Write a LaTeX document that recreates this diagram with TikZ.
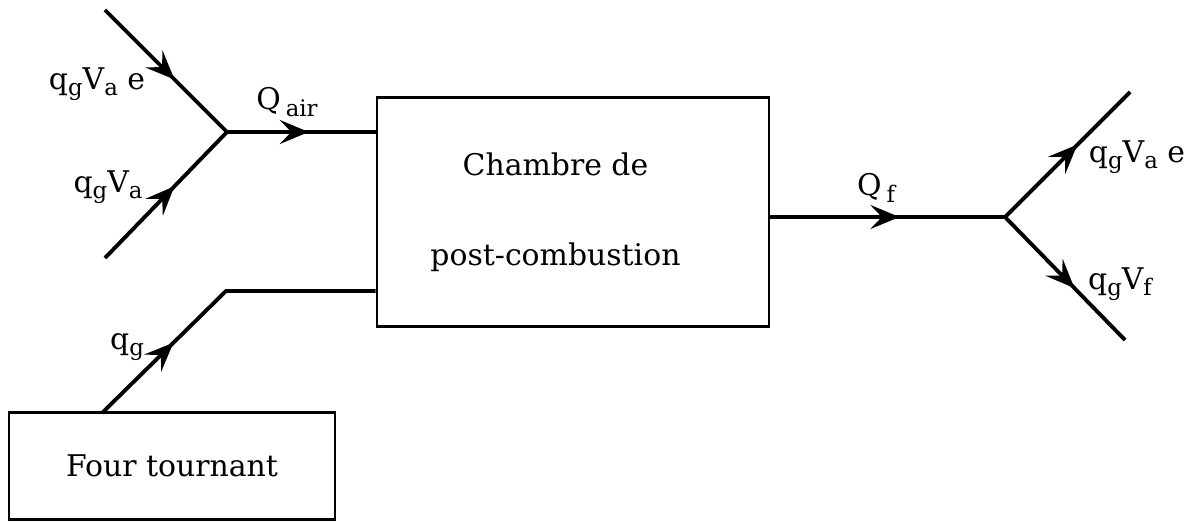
\documentclass[tikz,border=0pt]{standalone}
\usepackage{fontspec}
\setmainfont{DejaVu Serif}
\usetikzlibrary{arrows.meta,positioning,decorations.markings}
\newcommand{\lo}[1]{\raisebox{-0.4ex}{\fontsize{13}{15}\selectfont #1}}

\begin{document}
\begin{tikzpicture}[x=0.2mm,y=-0.2mm,
 box/.style={draw,line width=1.5pt,inner sep=0pt,font=\fontsize{17}{20}\selectfont},
 flow/.style={line width=2.2pt},
 mid/.style={postaction={decorate},decoration={markings,
   mark=at position #1 with {\arrow{Stealth[length=5.8mm,width=4.8mm,inset=2.3mm]}}}},
 lbl/.style={inner sep=0pt,font=\fontsize{17}{20}\selectfont}]
\useasboundingbox (0,0) rectangle (1187,522);
\node[box,minimum width=7.84cm,minimum height=4.58cm,align=center] (ch) at (573,212)
  {\hspace*{-7mm}Chambre de\\[11mm]\hspace*{-7mm}post-combustion};
\node[box,minimum width=6.52cm,minimum height=2.14cm,text depth=-2mm] (four) at (172,466) {Four tournant};
\coordinate (jin) at (227,132);
\coordinate (ain) at (105,10);
\coordinate (bin) at (105,258);
\coordinate (gin) at (102,413);
\coordinate (gk) at (226,291);
\coordinate (jout) at (1005,217);
\coordinate (aout) at (1130,92);
\coordinate (bout) at (1125,340);
\draw[flow,mid=0.57] (ain) -- (jin);
\draw[flow,mid=0.57] (bin) -- (jin);
\draw[flow,mid=0.55] (jin) -- (jin -| ch.west);
\draw[flow,mid=0.31] (gin) -- (gk) -- (gk -| ch.west);
\draw[flow,mid=0.55] (jout -| ch.east) -- (jout);
\draw[flow,mid=0.58] (jout) -- (aout);
\draw[flow,mid=0.58] (jout) -- (bout);
% labels
\node[lbl] (lae) at (97,84) {q\lo{g}V\lo{a} e};
\node[lbl] (la) at (108,187) {q\lo{g}V\lo{a}};
\node[lbl] (lair) at (287,102) {Q\,\lo{air}};
\node[lbl] (lg) at (127,347) {q\lo{g}};
\node[lbl] (lf) at (876,188) {Q\,\lo{f}};
\node[lbl] (rae) at (1137,157) {q\lo{g}V\lo{a} e};
\node[lbl] (rf) at (1120,284) {q\lo{g}V\lo{f}};
\end{tikzpicture}
\end{document}
